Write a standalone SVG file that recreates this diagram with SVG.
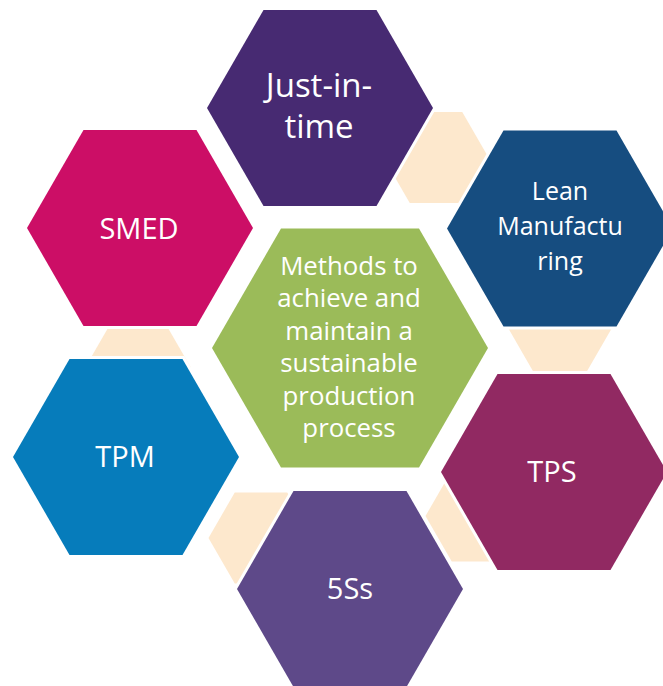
<svg xmlns="http://www.w3.org/2000/svg" width="663" height="686" viewBox="0 0 663 686">
<style>
.hex{stroke:#FFFFFF;stroke-width:6;paint-order:stroke;stroke-linejoin:miter}
.link{fill:#FDE8CD}
.t{font-family:"Open Sans","Noto Sans","Liberation Sans",sans-serif;fill:#FFFFFF;text-anchor:middle}
</style>
<rect width="663" height="686" fill="#FFFFFF"/>
<g id="connectors">
<polygon class="link" points="383.5,157.5 409.75,112 462.25,112 488.5,157.5 462.25,203 409.75,203"/>
<polygon class="link" points="507.5,327 533.75,281.5 586.25,281.5 612.5,327 586.25,372.5 533.75,372.5"/>
<polygon class="link" points="425.5,516 451.75,470.5 504.25,470.5 530.5,516 504.25,561.5 451.75,561.5"/>
<polygon class="link" points="208.5,538 234.75,492.5 287.25,492.5 313.5,538 287.25,583.5 234.75,583.5"/>
<polygon class="link" points="85.5,367 111.75,321.5 164.25,321.5 190.5,367 164.25,412.5 111.75,412.5"/>
</g>
<g id="jit">
<polygon class="hex" fill="#472A72" points="207,108 263.5,10 376.5,10 433,108 376.5,206 263.5,206"/>
<text class="t" font-size="33"><tspan x="319" y="97">Just-in-</tspan><tspan x="319" y="138">time</tspan></text>
</g>
<g id="lean">
<polygon class="hex" fill="#164D80" points="447,228.5 503.5,130.5 616.5,130.5 673,228.5 616.5,326.5 503.5,326.5"/>
<text class="t" font-size="25"><tspan x="560" y="200">Lean</tspan><tspan x="560" y="235">Manufactu</tspan><tspan x="560" y="270">ring</tspan></text>
</g>
<g id="smed">
<polygon class="hex" fill="#CC0E66" points="27,228 83.5,130 196.5,130 253,228 196.5,326 83.5,326"/>
<text class="t" font-size="29" x="139" y="239">SMED</text>
</g>
<g id="tpm">
<polygon class="hex" fill="#067CBB" points="13,457 69.5,359 182.5,359 239,457 182.5,555 69.5,555"/>
<text class="t" font-size="29" x="125" y="467">TPM</text>
</g>
<g id="tps">
<polygon class="hex" fill="#912962" points="441,472 497.5,374 610.5,374 667,472 610.5,570 497.5,570"/>
<text class="t" font-size="29" x="552" y="482">TPS</text>
</g>
<g id="fiveS">
<polygon class="hex" fill="#5E4989" points="237,589 293.5,491 406.5,491 463,589 406.5,687 293.5,687"/>
<text class="t" font-size="29" x="350" y="599">5Ss</text>
</g>
<g id="center">
<polygon class="hex" fill="#9BBB59" points="212,348 281,228.5 419,228.5 488,348 419,467.5 281,467.5"/>
<text class="t" font-size="25.8"><tspan x="349" y="274.5">Methods to</tspan><tspan x="349" y="307">achieve and</tspan><tspan x="349" y="339.5">maintain a</tspan><tspan x="349" y="372">sustainable</tspan><tspan x="349" y="404.5">production</tspan><tspan x="349" y="437">process</tspan></text>
</g>
</svg>
